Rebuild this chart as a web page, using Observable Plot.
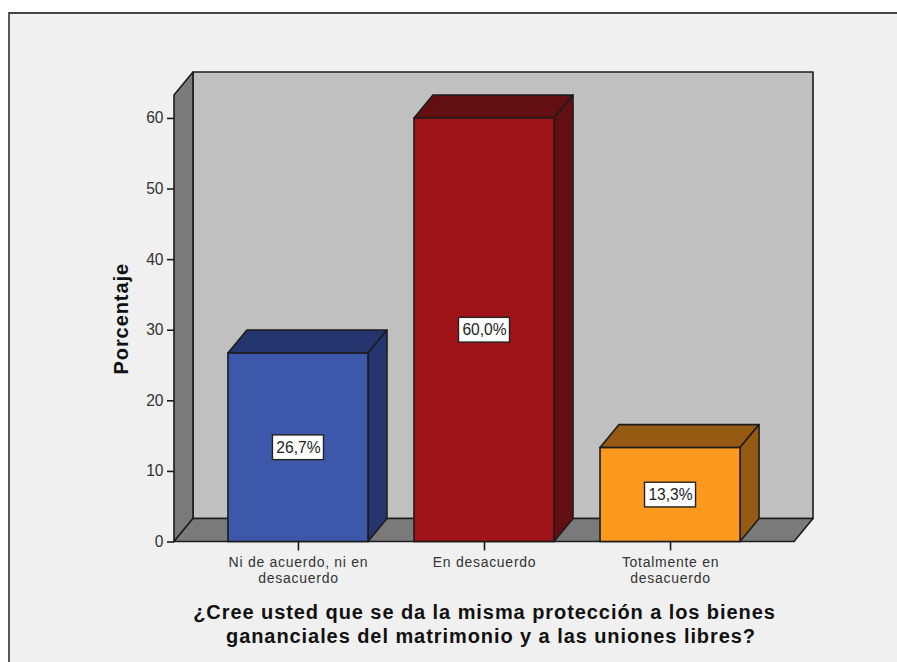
<!DOCTYPE html>
<html><head><meta charset="utf-8">
<script src="https://cdn.jsdelivr.net/npm/d3@7"></script>
<script src="https://cdn.jsdelivr.net/npm/@observablehq/plot@0.6"></script>
<style>
html,body{margin:0;padding:0;background:#fff;overflow:hidden}
#panel{position:absolute;left:8px;top:12px;width:889px;height:650px;box-sizing:border-box;background:#f0f0f0;border-left:2px solid #5a5a5a;border-top:2px solid #444}
#chart{position:absolute;left:0;top:0}
g[font-weight="bold"] text{letter-spacing:0.93px}
g[aria-label="x-axis tick label"] text{letter-spacing:0.72px}
</style></head>
<body><div id="panel"></div><div id="chart"></div>
<script>
const categories = ["Ni de acuerdo, ni en\ndesacuerdo", "En desacuerdo", "Totalmente en\ndesacuerdo"];
const values = [26.7, 60.0, 13.3];
const labels = ["26,7%", "60,0%", "13,3%"];
const frontColors = ["#3d58ab", "#9e1418", "#fd991e"];
const sideColors = ["#25366f", "#630f11", "#955b12"];
const yTicks = [0, 10, 20, 30, 40, 50, 60];
const xTitleText = "¿Cree usted que se da la misma protección a los bienes\n\u00a0\u00a0gananciales del matrimonio y a las uniones libres?";
const yTitle = "Porcentaje";

const data = categories.map((c, i) => ({c, v: values[i], label: labels[i], front: frontColors[i], side: sideColors[i]}));
const depthX = 19, depthY = 23, line = "#1c1c1c";

function poly(g, pts, fill) {
  g.append("polygon").attr("points", pts.map(p => p.join(",")).join(" "))
    .attr("fill", fill).attr("stroke", line).attr("stroke-width", 1.6).attr("stroke-linejoin", "round");
}
function room(index, s, v, d) {
  const g = d3.create("svg:g");
  const L = d.marginLeft, R = d.width - d.marginRight, T = d.marginTop, B = d.height - d.marginBottom;
  poly(g, [[L+depthX,T-depthY],[R+depthX,T-depthY],[R+depthX,B-depthY],[L+depthX,B-depthY]], "#c0c0c0");
  poly(g, [[L,T],[L+depthX,T-depthY],[L+depthX,B-depthY],[L,B]], "#7a7a7a");
  poly(g, [[L,B],[L+depthX,B-depthY],[R+depthX,B-depthY],[R,B]], "#7a7a7a");
  return g.node();
}
function boxes(index, s) {
  const g = d3.create("svg:g");
  const bw = s.x.bandwidth ? s.x.bandwidth() : s.scales.x.bandwidth;
  for (const e of data) {
    const x0 = s.x(e.c), x1 = x0 + bw, y = s.y(e.v), y0 = s.y(0);
    poly(g, [[x0,y],[x0+depthX,y-depthY],[x1+depthX,y-depthY],[x1,y]], e.side);
    poly(g, [[x1,y],[x1+depthX,y-depthY],[x1+depthX,y0-depthY],[x1,y0]], e.side);
  }
  return g.node();
}

const chart = Plot.plot({
  width: 897, height: 662,
  marginLeft: 174, marginRight: 103, marginTop: 95, marginBottom: 120.5,
  style: {background: "transparent", fontFamily: "'Liberation Sans', Arial, sans-serif"},
  x: {domain: categories, paddingInner: 0.2473, paddingOuter: 0.29, round: false, label: null},
  y: {domain: [0, 63.25], label: null},
  marks: [
    room,
    boxes,
    Plot.barY(data, {x: "c", y1: 0, y2: "v", fill: "front", stroke: line, strokeWidth: 1.6}),
    Plot.barY(data, {x: "c", y1: d => d.v/2 - 1.75, y2: d => d.v/2 + 1.75, insetLeft: 44.5, insetRight: 44.5, fill: "#fff", stroke: "#222", strokeWidth: 1.4}),
    Plot.text(data, {x: "c", y: d => d.v/2, text: "label", fontSize: 15.6, fill: "#222"}),
    Plot.axisY({ticks: yTicks, tickSize: 7, tickPadding: 4, fontSize: 15.6, label: null, stroke: "#1c1c1c", strokeWidth: 1.6, color: "#333"}),
    Plot.axisX({tickSize: 9, tickPadding: 4.5, fontSize: 14, label: null, lineHeight: 1.14, stroke: "#1c1c1c", strokeWidth: 1.6, color: "#333"}),
    Plot.text([xTitleText], {frameAnchor: "bottom", dy: 100.5, text: d => d, fontSize: 20, fontWeight: "bold", lineHeight: 1.17, fill: "#111", lineAnchor: "bottom"}),
    Plot.text([yTitle], {frameAnchor: "left", dx: -53, rotate: -90, textAnchor: "middle", text: d => d, fontSize: 20, fontWeight: "bold", fill: "#111"})
  ]
});
document.getElementById("chart").append(chart);
</script></body></html>
